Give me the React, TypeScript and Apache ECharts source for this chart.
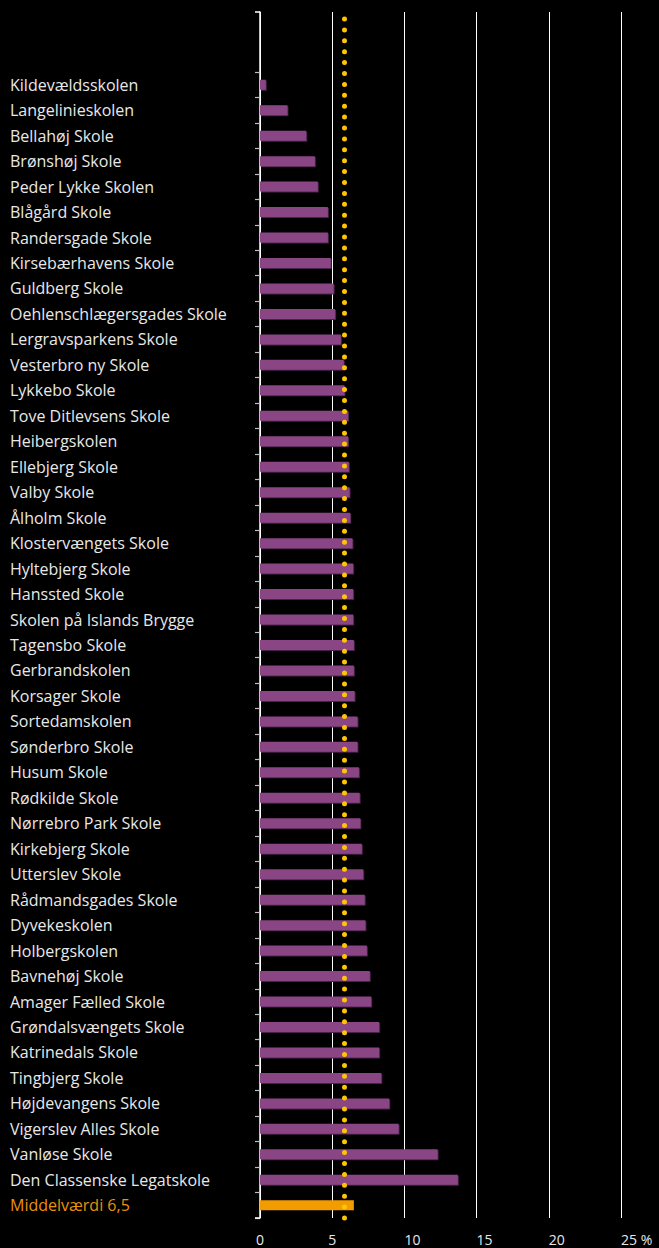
import { useEffect, useRef } from 'react';
import * as echarts from 'echarts';

const schools = [
  'Kildevældsskolen', 'Langelinieskolen', 'Bellahøj Skole', 'Brønshøj Skole', 'Peder Lykke Skolen',
  'Blågård Skole', 'Randersgade Skole', 'Kirsebærhavens Skole', 'Guldberg Skole', 'Oehlenschlægersgades Skole',
  'Lergravsparkens Skole', 'Vesterbro ny Skole', 'Lykkebo Skole', 'Tove Ditlevsens Skole', 'Heibergskolen',
  'Ellebjerg Skole', 'Valby Skole', 'Ålholm Skole', 'Klostervængets Skole', 'Hyltebjerg Skole',
  'Hanssted Skole', 'Skolen på Islands Brygge', 'Tagensbo Skole', 'Gerbrandskolen', 'Korsager Skole',
  'Sortedamskolen', 'Sønderbro Skole', 'Husum Skole', 'Rødkilde Skole', 'Nørrebro Park Skole',
  'Kirkebjerg Skole', 'Utterslev Skole', 'Rådmandsgades Skole', 'Dyvekeskolen', 'Holbergskolen',
  'Bavnehøj Skole', 'Amager Fælled Skole', 'Grøndalsvængets Skole', 'Katrinedals Skole', 'Tingbjerg Skole',
  'Højdevangens Skole', 'Vigerslev Alles Skole', 'Vanløse Skole', 'Den Classenske Legatskole',
];

const shares = [
  0.4, 1.9, 3.2, 3.8, 4.0,
  4.7, 4.7, 4.9, 5.1, 5.2,
  5.6, 5.8, 5.85, 6.1, 6.1,
  6.15, 6.2, 6.25, 6.4, 6.45,
  6.45, 6.45, 6.5, 6.5, 6.55,
  6.75, 6.75, 6.85, 6.9, 6.95,
  7.05, 7.15, 7.25, 7.3, 7.4,
  7.6, 7.7, 8.25, 8.25, 8.4,
  8.95, 9.6, 12.3, 13.7,
];

const meanLabel = 'Middelværdi 6,5';
const meanValue = 6.5;
const referenceLineValue = 5.85;

const xTickValues = [0, 5, 10, 15, 20, 25];
const xTickLabels = ['0', '5', '10', '15', '20', '25 %'];

const PURPLE = '#8a4585';
const ORANGE = '#f39c00';
const YELLOW = '#ffc600';
const TEXT = '#e8e8e8';
const FONT = '"Open Sans", sans-serif';

export default function App() {
  const ref = useRef<HTMLDivElement>(null);

  useEffect(() => {
    const chart = echarts.init(ref.current!, null, { renderer: 'svg' });

    const labelStyle = { fontFamily: FONT, fontSize: 16, align: 'left' };

    const categories: any[] = schools.map((s) => s);
    categories.push({ value: meanLabel, textStyle: { ...labelStyle, color: '#e8920c' } });

    const barData: any[] = shares.map((v) => ({ value: v }));
    barData.push({
      value: meanValue,
      itemStyle: { color: ORANGE, borderColor: ORANGE, borderWidth: 2, shadowBlur: 0, shadowOffsetX: 0, shadowOffsetY: 0, shadowColor: 'transparent' },
    });

    const labelFor = (v: number) => {
      const i = xTickValues.indexOf(v);
      return i >= 0 ? xTickLabels[i] : '';
    };

    const gridPos = { left: 260, right: 38, bottom: 30, containLabel: false, outerBoundsMode: 'none' };

    chart.setOption({
      animation: false,
      backgroundColor: '#000',
      grid: [
        { ...gridPos, top: 72 },
        { ...gridPos, top: 12 },
        { ...gridPos, top: 12 },
      ],
      xAxis: [
        { gridIndex: 0, type: 'value', min: 0, max: 25, interval: 5, show: false },
        {
          gridIndex: 1, type: 'value', min: 0, max: 25, interval: 5, position: 'bottom',
          axisLine: { show: false }, axisTick: { show: false },
          splitLine: { show: true, lineStyle: { color: '#ffffff', width: 1 } },
          axisLabel: {
            color: TEXT, fontFamily: FONT, fontSize: 14, margin: 14, align: 'center',
            formatter: (v: number) => (v < 10 ? labelFor(v) : ''),
          },
        },
        {
          gridIndex: 2, type: 'value', min: 0, max: 25, interval: 5, position: 'bottom',
          axisLine: { show: false }, axisTick: { show: false }, splitLine: { show: false },
          axisLabel: {
            color: TEXT, fontFamily: FONT, fontSize: 14, margin: 14, align: 'left',
            formatter: (v: number) => (v >= 10 ? labelFor(v) : ''),
          },
        },
      ],
      yAxis: [
        {
          gridIndex: 0, type: 'category', inverse: true, data: categories,
          axisLine: { show: false },
          axisTick: { show: true, length: 5, lineStyle: { color: '#bdbdbd', width: 1.2 } },
          axisLabel: { ...labelStyle, color: TEXT, margin: 250 },
          splitLine: { show: false },
        },
        {
          gridIndex: 1, type: 'value', min: 0, max: 1, interval: 1,
          axisLine: { show: true, lineStyle: { color: '#ffffff', width: 1.5 } },
          axisTick: { show: true, length: 5, lineStyle: { color: '#ffffff', width: 1.5 } },
          axisLabel: { show: false }, splitLine: { show: false },
        },
        {
          gridIndex: 2, type: 'value', min: 0, max: 1, show: false,
        },
      ],
      series: [
        {
          type: 'bar', xAxisIndex: 0, yAxisIndex: 0, barWidth: 10, data: barData,
          itemStyle: {
            color: PURPLE,
            shadowColor: '#4a2148', shadowBlur: 0, shadowOffsetX: 1, shadowOffsetY: 1,
          },
          z: 3,
        },
        {
          type: 'scatter', xAxisIndex: 1, yAxisIndex: 1, data: [], z: 5,
          markLine: {
            silent: true, symbol: ['none', 'none'], label: { show: false },
            lineStyle: { color: YELLOW, width: 5, type: [0, 10.9], cap: 'round' },
            data: [{ xAxis: referenceLineValue }],
          },
        },
        { type: 'scatter', xAxisIndex: 2, yAxisIndex: 2, data: [] },
      ],
    });

    return () => chart.dispose();
  }, []);

  return (
    <div
      ref={ref}
      style={{ position: 'fixed', left: 0, top: 0, width: 659, height: 1248, background: '#000' }}
    />
  );
}
